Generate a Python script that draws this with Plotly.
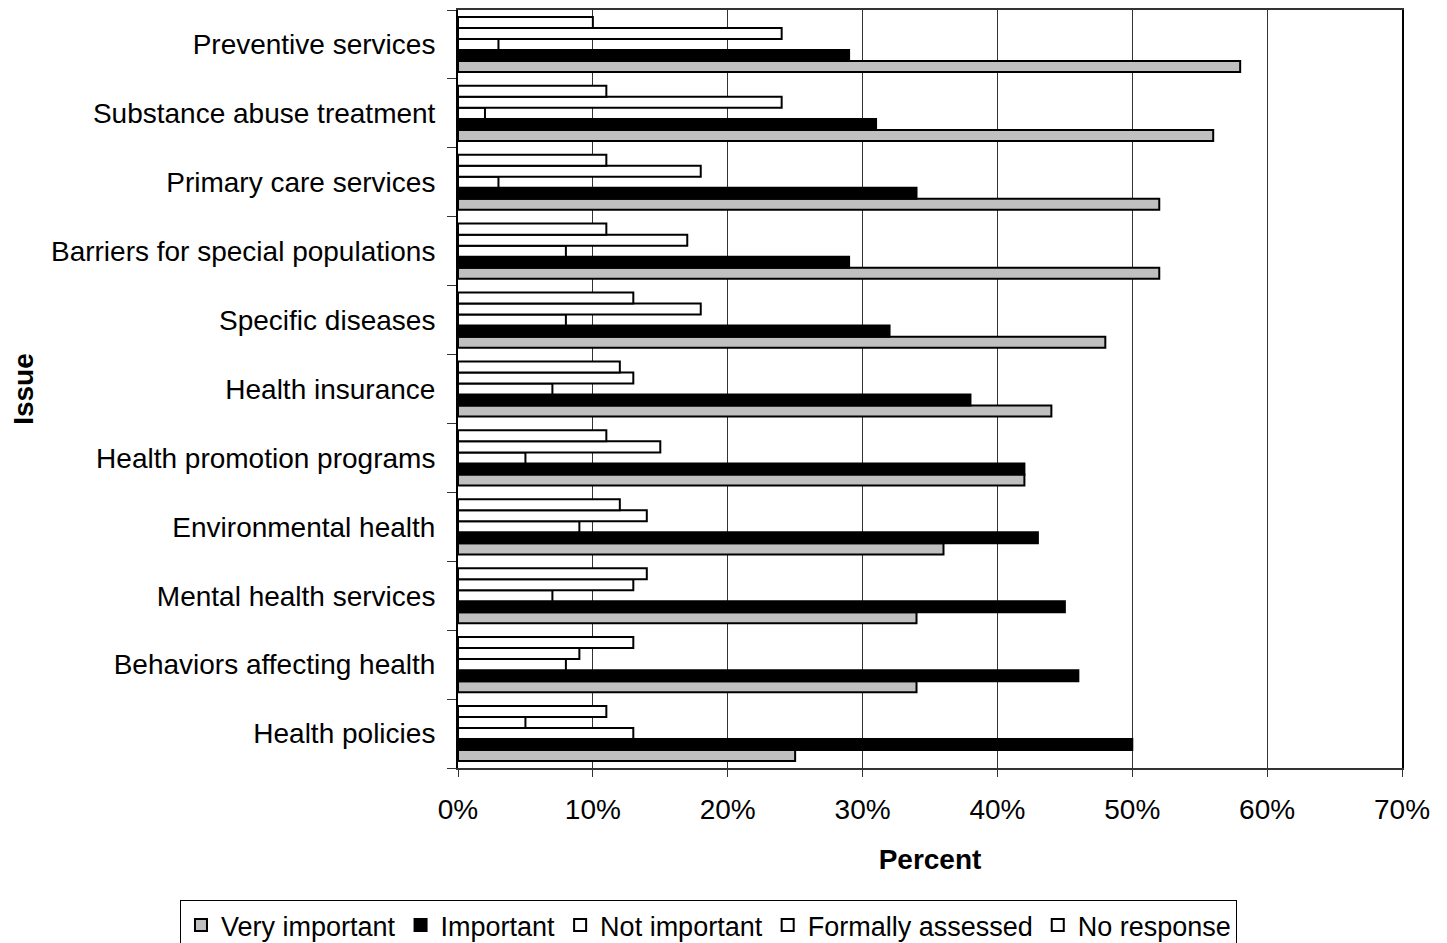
import plotly.graph_objects as go

issues = [
    "Preventive services",
    "Substance abuse treatment",
    "Primary care services",
    "Barriers for special populations",
    "Specific diseases",
    "Health insurance",
    "Health promotion programs",
    "Environmental health",
    "Mental health services",
    "Behaviors affecting health",
    "Health policies",
]

very_important = [58, 56, 52, 52, 48, 44, 42, 36, 34, 34, 25]
important = [29, 31, 34, 29, 32, 38, 42, 43, 45, 46, 50]
not_important = [3, 2, 3, 8, 8, 7, 5, 9, 7, 8, 13]
formally_assessed = [24, 24, 18, 17, 18, 13, 15, 14, 13, 9, 5]
no_response = [10, 11, 11, 11, 13, 12, 11, 12, 14, 13, 11]

x_ticks = [0, 10, 20, 30, 40, 50, 60, 70]
x_tick_labels = ["0%", "10%", "20%", "30%", "40%", "50%", "60%", "70%"]

series = [
    ("Very important", very_important, "#C0C0C0"),
    ("Important", important, "#000000"),
    ("Not important", not_important, "#FFFFFF"),
    ("Formally assessed", formally_assessed, "#FFFFFF"),
    ("No response", no_response, "#FFFFFF"),
]

FONT = "Liberation Sans, Arial, sans-serif"
FS = 28

fig = go.Figure()
for name, vals, color in series:
    fig.add_trace(go.Bar(
        y=issues, x=vals, name=name, orientation="h",
        marker=dict(color=color, line=dict(color="#000000", width=2)),
    ))

# page body has an 8px margin, so the figure is sized to fit inside it
fig.update_layout(
    width=1439, height=935,
    margin=dict(l=450, r=45, t=2, b=175, autoexpand=False),
    paper_bgcolor="white", plot_bgcolor="white",
    barmode="group", bargap=0.2, bargroupgap=0,
    font=dict(family=FONT, size=FS, color="black"),
    showlegend=True,
    legend=dict(
        orientation="h",
        x=-0.2945, xanchor="left", y=-0.1741, yanchor="top",
        bordercolor="black", borderwidth=1,
        font=dict(family=FONT, size=27, color="black"),
        itemwidth=30, tracegroupgap=0,
    ),
    xaxis=dict(
        range=[0, 70], tickvals=x_ticks, ticktext=x_tick_labels,
        showgrid=True, gridcolor="#333333", gridwidth=1,
        ticks="outside", ticklen=7, tickcolor="#333333",
        showline=True, linecolor="#333333", linewidth=2, mirror=True,
        zeroline=False, ticklabelstandoff=8,
        title=dict(text="<b>Percent</b>", font=dict(family=FONT, size=FS), standoff=26),
    ),
    yaxis=dict(
        categoryorder="array", categoryarray=list(reversed(issues)),
        tickson="boundaries", ticks="outside", ticklen=9, tickcolor="#333333",
        showline=True, linecolor="#000000", linewidth=2, mirror=True,
        showgrid=False, ticklabelstandoff=15,
        title=dict(text="<b>Issue</b>", font=dict(family=FONT, size=FS), standoff=16),
    ),
)

fig.write_html("out.html")
